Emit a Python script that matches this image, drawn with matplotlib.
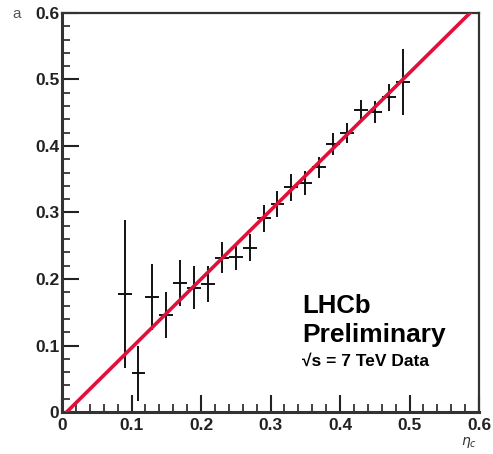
import numpy as np
import matplotlib.pyplot as plt
from matplotlib.ticker import MultipleLocator

plt.rcParams['font.family'] = ['Liberation Sans', 'DejaVu Sans']

eta = [0.09, 0.11, 0.13, 0.15, 0.17, 0.19, 0.21, 0.23, 0.25, 0.27, 0.29,
       0.31, 0.33, 0.35, 0.37, 0.39, 0.41, 0.43, 0.45, 0.47, 0.49]
a_val = [0.177, 0.058, 0.173, 0.146, 0.194, 0.187, 0.192, 0.232, 0.233, 0.247, 0.291,
         0.313, 0.338, 0.345, 0.368, 0.403, 0.419, 0.454, 0.451, 0.473, 0.496]
a_err = [0.111, 0.041, 0.05, 0.035, 0.035, 0.032, 0.027, 0.023, 0.02, 0.02, 0.02,
         0.02, 0.02, 0.018, 0.016, 0.016, 0.015, 0.015, 0.017, 0.02, 0.05]
eta_err = [0.01] * len(eta)

# fitted line
slope = 1.034
intercept = -0.007

fig = plt.figure(figsize=(4.93, 4.54), dpi=100)
ax = fig.add_axes([0.1258, 0.0925, 0.8458, 0.8789])

xl = np.array([0.0, 0.6])
ax.plot(xl, slope * xl + intercept, color='#e0103a', lw=2.6, zorder=3)
ax.errorbar(eta, a_val, xerr=eta_err, yerr=a_err, fmt='none',
            ecolor='#111111', elinewidth=1.4, capsize=0, zorder=2)

ax.set_xlim(0, 0.6)
ax.set_ylim(0, 0.6)
ax.xaxis.set_major_locator(MultipleLocator(0.1))
ax.yaxis.set_major_locator(MultipleLocator(0.1))
ax.xaxis.set_minor_locator(MultipleLocator(0.02))
ax.yaxis.set_minor_locator(MultipleLocator(0.02))
ax.tick_params(which='both', direction='in', top=False, right=False, colors='#222222')
ax.tick_params(which='major', length=12, width=1.5, labelsize=12.5)
ax.tick_params(axis='x', which='major', pad=4)
ax.tick_params(axis='y', which='major', pad=2)
ax.tick_params(which='minor', length=6, width=1.2)
ax.xaxis.set_major_formatter(lambda v, p: '0' if abs(v) < 1e-9 else f'{v:.1f}')
ax.yaxis.set_major_formatter(lambda v, p: '0' if abs(v) < 1e-9 else f'{v:.1f}')
for lab in ax.get_xticklabels() + ax.get_yticklabels():
    lab.set_fontweight('bold')
    lab.set_color('#222222')

for s in ['left', 'bottom']:
    ax.spines[s].set_linewidth(2.2)
for s in ['top', 'right']:
    ax.spines[s].set_linewidth(1.6)
for s in ax.spines.values():
    s.set_color('#333333')

fig.text(12 / 493, 1 - 14 / 454, 'a', fontsize=11, color='#555555', va='center', ha='left')
fig.text(469 / 493, 1 - 442 / 454, r'$\eta_{c}$', fontsize=10, color='#333333', va='center', ha='center')

ax.text(0.345, 0.149, 'LHCb', fontsize=18.5, fontweight='bold', ha='left', va='baseline')
ax.text(0.345, 0.106, 'Preliminary', fontsize=19, fontweight='bold', ha='left', va='baseline')
ax.text(0.345, 0.069, '√s = 7 TeV Data', fontsize=12.5, fontweight='bold', ha='left', va='baseline')

fig.savefig('out.png', dpi=100)
